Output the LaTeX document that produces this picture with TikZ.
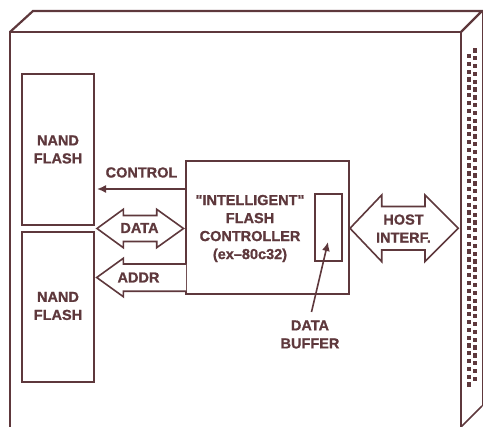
\documentclass[tikz,border=0pt]{standalone}
\usepackage{fontspec}
\setmainfont{Liberation Sans}
\newfontfamily\lblfont{Liberation Sans Bold}[FakeBold=1.0]
\usetikzlibrary{arrows.meta}
\definecolor{br}{RGB}{94,56,60}
\begin{document}
\begin{tikzpicture}[x=1pt,y=-1pt,
  edge/.style={draw=br,line width=2.2pt,line join=miter},
  box/.style={draw=br,line width=2pt,fill=white,inner sep=0pt,outer sep=0pt},
  lbl/.style={text=br,font=\fontsize{14.5}{18}\selectfont\lblfont,align=center,inner sep=0pt},
  fat/.style={draw=br,line width=1.6pt,line join=miter,fill=white},
  ptr/.style={draw=br,line width=1.6pt,-{Latex[length=9pt,width=8pt]}},
  sq/.style={fill=br}]
\useasboundingbox (0,0) rectangle (483,427);
% cabinet
\draw[edge] (10,427) -- (10,32) -- (461,32) -- (461,427);
\draw[edge] (10,32) -- (33,11) -- (482,11) -- (461,32);
\draw[br,line width=0.7pt] (482,11) -- (482,406);
\draw[br,line width=1.6pt] (461,427) -- (482,406);
\foreach \i in {0,...,42} {
  \fill[sq] (472.7,48.3+7.82*\i) rectangle ++(4.3,4.3);
  \fill[sq] (466.7,54+7.82*\i) rectangle ++(4.3,4.3);
}
% boxes
\node[box,minimum width=72pt,minimum height=151pt] (nand1) at (58,149.5) {};
\node[lbl] at (nand1.center) {NAND\\FLASH};
\node[box,minimum width=72pt,minimum height=150pt] (nand2) at (58,307) {};
\node[lbl] at (58,306) {NAND\\FLASH};
\node[box,minimum width=163pt,minimum height=133pt] (ctrl) at (267.5,227.5) {};
\node[lbl] (ctext) at (250,228.5) {"INTELLIGENT"\\FLASH\\CONTROLLER\\(ex–80c32)};
\node[box,minimum width=27pt,minimum height=67pt] (buf) at (328.5,227.5) {};
% control arrow
\coordinate (ctip) at (97,189);
\draw[ptr] (ctrl.west |- ctip) -- (ctip);
\node[lbl] (clbl) at (141.5,172.5) {CONTROL};
% data double arrow
\draw[fat] (97,228.5) -- (123.3,209.3) -- (123.3,215.5) -- (156.7,215.5) -- (156.7,209.3)
  -- (183.5,228.5) -- (156.7,247.7) -- (156.7,241.5) -- (123.3,241.5) -- (123.3,247.7) -- cycle;
\node[lbl] (dlbl) at (139.5,228) {DATA};
% addr arrow
\draw[fat] (ctrl.west |- 0,264) -- (123.3,264) -- (123.3,258.3) -- (96.7,277.5)
  -- (123.3,296.7) -- (123.3,291.3) -- (ctrl.west |- 0,291.3);
\node[lbl] (albl) at (138.5,277.5) {ADDR};
% host double arrow
\draw[fat] (350,228.3) -- (381.7,195) -- (381.7,206.5) -- (425,206.5) -- (425,195)
  -- (458.3,228.3) -- (425,261.6) -- (425,250) -- (381.7,250) -- (381.7,261.6) -- cycle;
\node[lbl] (hlbl) at (403.5,228.5) {HOST\\INTERF.};
% data buffer pointer
\node[lbl] (blbl) at (310,334.5) {DATA\\BUFFER};
\coordinate (bstart) at (311.5,312);
\coordinate (btip) at (328,242);
\draw[ptr] (bstart) -- (btip);
\end{tikzpicture}
\end{document}
